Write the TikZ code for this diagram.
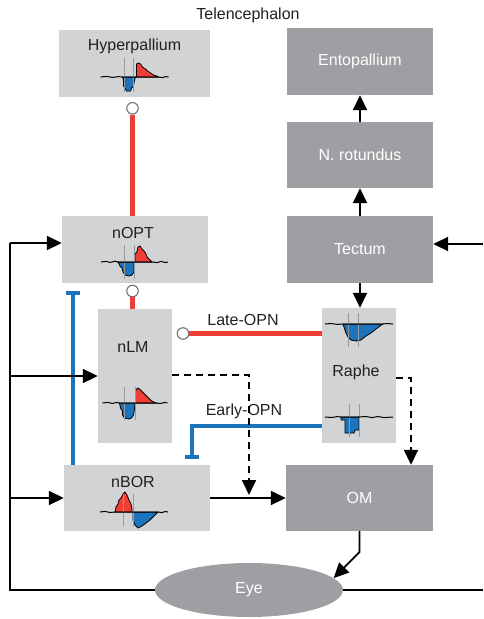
\documentclass[tikz,border=0pt]{standalone}
\usepackage{fontspec}
\setmainfont{Liberation Sans}
\usetikzlibrary{arrows.meta,shapes.geometric}
\definecolor{lbox}{HTML}{D1D3D4}
\definecolor{dbox}{HTML}{9D9FA2}
\definecolor{cred}{HTML}{EF3E36}
\definecolor{cblue}{HTML}{1C75BC}
\definecolor{ctext}{HTML}{231F20}
\begin{document}
\begin{tikzpicture}[x=1pt,y=-1pt,font=\fontsize{16}{19}\selectfont,
  lightbox/.style={rectangle,fill=lbox,inner sep=0pt},
  darkbox/.style={rectangle,fill=dbox,inner sep=0pt,text=white},
  lbl/.style={text=ctext,inner sep=0pt},
  conn/.style={line width=1.8pt,black},
  arr/.style={conn,-{Triangle[length=15pt,width=14pt]}},
  darr/.style={arr,dash pattern=on 7pt off 5pt},
  redline/.style={line width=4.2pt,cred},
  blueT/.style={line width=4.2pt,cblue,-{Bar[width=14pt]}},
  syn/.style={circle,draw=black!55,fill=white,line width=1.1pt,minimum size=11.5pt,inner sep=0pt},
  tbase/.style={black,line width=1pt},
  tgrid/.style={black!40,line width=0.8pt},
  tblue/.style={fill=cblue,draw=black,line width=0.8pt},
  tred/.style={fill=cred,draw=black,line width=0.8pt}]
\useasboundingbox (0,0) rectangle (483,619);

% boxes
\node[lightbox,minimum width=151pt,minimum height=67pt] (hyp) at (134.5,63.5) {};
\node[lightbox,minimum width=146pt,minimum height=67pt] (nopt) at (135,249.5) {};
\node[lightbox,minimum width=74pt,minimum height=134pt] (nlm) at (135,376) {};
\node[lightbox,minimum width=74pt,minimum height=135pt] (raphe) at (359,375.5) {};
\node[lightbox,minimum width=146pt,minimum height=66pt] (nbor) at (137,498) {};
\node[darkbox,minimum width=146pt,minimum height=67pt] (ento) at (360,61.5) {Entopallium};
\node[darkbox,minimum width=146pt,minimum height=66pt] (nrot) at (360,155) {N. rotundus};
\node[darkbox,minimum width=146pt,minimum height=67pt] (tect) at (360,249.5) {Tectum};
\node[darkbox,minimum width=147pt,minimum height=66pt] (om) at (359.5,498) {OM};
\node[ellipse,fill=dbox,text=white,minimum width=188pt,minimum height=54pt,inner sep=0pt] (eye) at (249,590) {Eye};

% labels
\node[lbl] (tel) at (248,15) {Telencephalon};
\node[lbl] (hypL) at (134.5,46) {Hyperpallium};
\node[lbl] (noptL) at (133,233) {nOPT};
\node[lbl] (nlmL) at (133,347) {nLM};
\node[lbl] (rapheL) at (356,372) {Raphe};
\node[lbl] (nborL) at (133,482) {nBOR};
\node[lbl] (late) at (243,320) {Late-OPN};
\node[lbl] (early) at (244,411) {Early-OPN};

% synapse circles
\node[syn] (c1) at (132.5,108.3) {};
\node[syn] (c2) at (132.5,291) {};
\node[syn] (c3) at (183,333.5) {};

% helper coordinates
\coordinate (f1) at (10,243);
\coordinate (f4) at (10,590);
\coordinate (r1) at (483,590);
\coordinate (rT) at (483,244);
\coordinate (k) at (359.5,552);
\coordinate (tl) at (73,291);
\coordinate (te) at (192,459);
\coordinate (yE) at (0,426);
\coordinate (yD) at (0,378);
\coordinate (xD) at (411,0);
\coordinate (yL) at (0,375);
\coordinate (dL) at (249,495);

% red connections
\draw[redline] (c1) -- (nopt.north -| c1);
\draw[redline] (c2) -- (nlm.north -| c2);
\draw[redline] (c3) -- (raphe.west |- c3);

% blue inhibitory
\draw[blueT] (nbor.north -| tl) -- (tl);
\draw[blueT] (raphe.west |- yE) -| (te);

% black arrows
\draw[arr] (tect.north) -- (nrot.south);
\draw[arr] (nrot.north) -- (ento.south);
\draw[arr] (tect.south) -- (raphe.north -| tect.south);
\draw[arr] (rT) -- (tect.east |- rT);
\draw[arr] (nbor.east) -- (om.west);
\draw[arr] (om.south) -- (k) -- (eye.8);
\draw[conn] (eye.west) -- (f4) -- (f1);
\draw[arr] (f1) -- (nopt.west |- f1);
\draw[arr] (f1 |- nlm.west) -- (nlm.west);
\draw[arr] (f1 |- nbor.west) -- (nbor.west);
\draw[conn] (eye.east) -- (r1);
\draw[darr] (nlm.east |- yL) -| (dL);
\draw[darr] (raphe.east |- yD) -| (om.north -| xD);

% traces
% Hyperpallium
\begin{scope}[shift={(128.5,77)}]
\fill[tblue] (-6,0) -- (-5,3) -- (-5,9) -- (-3,12) -- (-2,14) -- (2,14) -- (3,11) -- (5,9) -- (6,3) -- (7,0) -- cycle;
\fill[tred] (8,0) -- (8,-13) -- (10,-14) -- (12,-13) -- (14,-10) -- (17,-8) -- (19,-6) -- (22,-4) -- (25,-2) -- (28,-1) -- (30,0) -- cycle;
\draw[tgrid] (-4.5,-19) -- (-4.5,15) (4.5,-19) -- (4.5,15);
\draw[tbase] (-28,0) -- (-22,-0.6) -- (-16,0.4) -- (-10,-0.4) -- (-6,0) -- (30,0) -- (34,0.6) -- (37,-0.4) -- (40,0);
\end{scope}
% nOPT
\begin{scope}[shift={(129,262)}]
\fill[tblue] (-11,0) -- (-9,4) -- (-7,6) -- (-6,10) -- (-4,13) -- (0,14) -- (3,13) -- (5,10) -- (5,0) -- cycle;
\fill[tred] (6,0) -- (6,-8) -- (8,-10) -- (9,-15) -- (11,-16) -- (13,-13) -- (15,-11) -- (17,-8) -- (18,-5) -- (20,-3) -- (22,-1) -- (23,0) -- cycle;
\draw[tgrid] (-5,-17) -- (-5,17) (5,-17) -- (5,17);
\draw[tbase] (-28,0) -- (-23,-0.6) -- (-19,0.4) -- (-14,-0.8) -- (-11,0) -- (23,0) -- (28,0.6) -- (32,-0.6) -- (36,0.5) -- (39,0);
\end{scope}
% nLM
\begin{scope}[shift={(129.5,403)}]
\fill[tblue] (-10,0) -- (-9,5) -- (-7,8) -- (-7,12) -- (-5,15) -- (-1,16) -- (2,15) -- (4,12) -- (5,6) -- (5.5,0) -- cycle;
\fill[tred] (6,0) -- (6,-12) -- (8,-15) -- (10,-14) -- (12,-12) -- (15,-9) -- (18,-6) -- (21,-3) -- (24,-1) -- (27,0) -- cycle;
\draw[tgrid] (-5.5,-16) -- (-5.5,17) (5.5,-16) -- (5.5,17);
\draw[tbase] (-27,0) -- (-22,-0.6) -- (-17,0.4) -- (-13,-0.5) -- (-10,0) -- (27,0) -- (31,0.5) -- (35,-0.6) -- (38,0);
\end{scope}
% Raphe top
\begin{scope}[shift={(353,324)}]
\fill[tblue] (-10,0) -- (-9,3) -- (-7,9) -- (-5,13) -- (-2,16) -- (3,17) -- (8,16) -- (13,12) -- (18,9) -- (23,5) -- (27,2) -- (30,0) -- cycle;
\draw[tgrid] (-5,-11) -- (-5,23) (5,-11) -- (5,23);
\draw[tbase] (-28,0) -- (-22,-0.5) -- (-16,0.4) -- (-10,0) -- (30,0) -- (34,-0.5) -- (40,0);
\end{scope}
% Raphe bottom
\begin{scope}[shift={(354,417)}]
\fill[tblue] (-13,0) -- (-13,3) -- (-9,3) -- (-9,16) -- (0,16) -- (1,13) -- (5,13) -- (5,0) -- cycle;
\draw[tgrid] (-5,-13) -- (-5,20) (5,-13) -- (5,20);
\draw[tbase] (-29,0) -- (-22,0.5) -- (-17,-0.4) -- (-13,0) -- (5,0) -- (12,-0.5) -- (18,0.6) -- (24,-0.5) -- (30,0.6) -- (39,0);
\end{scope}
% nBOR
\begin{scope}[shift={(128,512)}]
\fill[tred] (-13,0) -- (-12,-5) -- (-10,-8) -- (-9,-12) -- (-7,-14) -- (-5,-18) -- (-3,-20) -- (-1,-17) -- (1,-12) -- (3,-8) -- (4,-3) -- (4,0) -- cycle;
\begin{scope}
\clip (-40,-30) rectangle (60,18.5);
\fill[tblue] (5,0) -- (5,8) -- (7,13) -- (10,16) -- (14,14) -- (18,11) -- (22,8) -- (26,4) -- (28,2) -- (30,0) -- cycle;
\end{scope}
\draw[tgrid] (-5,-18) -- (-5,14) (5,-18) -- (5,14);
\draw[tbase] (-28,0) -- (-23,-0.6) -- (-18,0.5) -- (-13,0) -- (30,0) -- (34,0.6) -- (37,-0.5) -- (40,0);
\end{scope}
\end{tikzpicture}
\end{document}
